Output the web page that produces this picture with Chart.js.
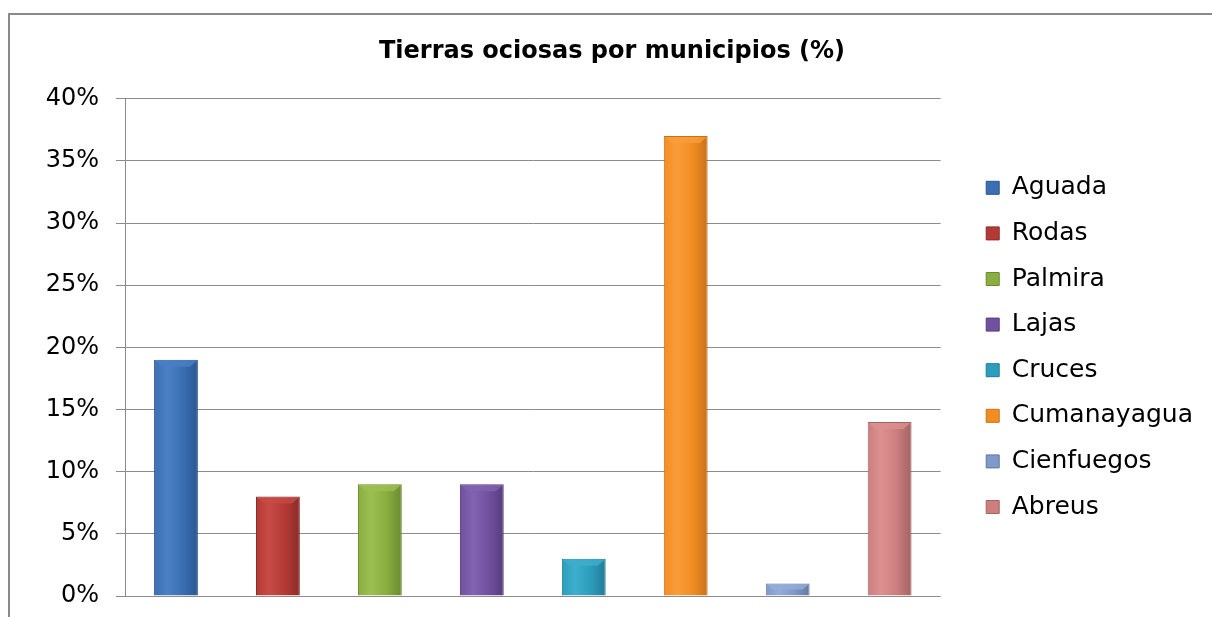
<!DOCTYPE html>
<html>
<head>
<meta charset="utf-8">
<script src="https://cdn.jsdelivr.net/npm/chart.js@4"></script>
<style>
  html, body { margin: 0; padding: 0; background: #fff; }
  #wrap { position: relative; width: 1212px; height: 617px; overflow: hidden; }
  #frame { position: absolute; left: 8px; top: 13px; width: 1300px; height: 700px;
           border-left: 2px solid #8a8a8a; border-top: 2px solid #8a8a8a; pointer-events: none; }
  canvas { position: absolute; left: 0; top: 0; }
</style>
</head>
<body>
<div id="wrap">
  <div id="frame"></div>
  <canvas id="c" width="1212" height="617"></canvas>
</div>
<script>
const titleText = 'Tierras ociosas por municipios (%)';
const categories = ['Aguada', 'Rodas', 'Palmira', 'Lajas', 'Cruces', 'Cumanayagua', 'Cienfuegos', 'Abreus'];
const values = [19, 8, 9, 9, 3, 37, 1, 14];
const yTicks = [0, 5, 10, 15, 20, 25, 30, 35, 40];

const baseColors = ['#3a6fb3', '#b53a36', '#8aae3f', '#7150a0', '#2d9dbd', '#f38d22', '#7f99c8', '#cc7f7e'];
const darkColors = ['#2c5690', '#8a2c29', '#6a8a30', '#563d7c', '#227c96', '#c8711a', '#62789f', '#a26362'];
const lightColors = ['#4a80c4', '#c64a46', '#9bbf50', '#8262b2', '#3eaecd', '#f99d3a', '#93acd8', '#dc908f'];

const bevelPlugin = {
  id: 'bevel',
  beforeDatasetsDraw(chart) {
    const meta = chart.getDatasetMeta(0);
    const ctx = chart.ctx;
    meta.data.forEach((el, i) => {
      const w = el.width, x0 = el.x - w / 2, x1 = el.x + w / 2;
      const g = ctx.createLinearGradient(x0, 0, x1, 0);
      g.addColorStop(0, baseColors[i]);
      g.addColorStop(0.3, lightColors[i]);
      g.addColorStop(0.65, baseColors[i]);
      g.addColorStop(1, darkColors[i]);
      el.options.backgroundColor = g;
    });
  },
  afterDatasetsDraw(chart) {
    const meta = chart.getDatasetMeta(0);
    const ctx = chart.ctx;
    ctx.save();
    meta.data.forEach((el, i) => {
      const w = el.width, x0 = el.x - w / 2, x1 = el.x + w / 2;
      const top = el.y, h = Math.min(7, (el.base - el.y) / 2);
      ctx.beginPath();
      ctx.moveTo(x0 + 1, top + 1);
      ctx.lineTo(x1 - 1, top + 1);
      ctx.lineTo(x1 - 1 - h, top + h);
      ctx.lineTo(x0 + 1 + h, top + h);
      ctx.closePath();
      ctx.fillStyle = lightColors[i];
      ctx.globalAlpha = 0.8;
      ctx.fill();
    });
    ctx.restore();
  }
};

new Chart(document.getElementById('c'), {
  type: 'bar',
  data: {
    labels: categories,
    datasets: [{
      data: values,
      backgroundColor: baseColors,
      borderColor: darkColors,
      borderWidth: 1,
      categoryPercentage: 1,
      barPercentage: 0.43
    }]
  },
  plugins: [bevelPlugin],
  options: {
    responsive: false,
    animation: false,
    events: [],
    layout: { padding: { top: 10, left: 21, right: 9, bottom: 21 } },
    plugins: {
      title: {
        display: true,
        text: titleText,
        color: '#000',
        font: { family: 'DejaVu Sans', size: 24, weight: 'bold' },
        padding: { top: 27, bottom: 33 }
      },
      legend: {
        display: true,
        position: 'right',
        fullSize: false,
        maxWidth: 260,
        labels: {
          font: { family: 'DejaVu Sans', size: 25 },
          color: '#000',
          boxWidth: 13,
          boxHeight: 13,
          padding: 20.6,
          generateLabels: () => categories.map((c, i) => ({
            text: c,
            fillStyle: baseColors[i],
            strokeStyle: darkColors[i],
            lineWidth: 1,
            hidden: false,
            index: i,
            datasetIndex: 0,
            fontColor: '#000'
          }))
        }
      },
      tooltip: { enabled: false }
    },
    scales: {
      x: { display: false },
      y: {
        min: 0,
        max: 40,
        afterBuildTicks: s => { s.ticks = yTicks.map(v => ({ value: v })); },
        afterFit: s => { s.width = 104; s.paddingBottom = 12; s.paddingTop = 12; },
        ticks: {
          color: '#000',
          font: { family: 'DejaVu Sans', size: 24 },
          padding: 17,
          callback: v => v + '%'
        },
        grid: { color: '#8c8c8c', lineWidth: 1, tickLength: 9, drawTicks: true },
        border: { display: true, color: '#8c8c8c', width: 1 }
      },
      gap: {
        position: 'right',
        display: true,
        min: 0, max: 1,
        ticks: { display: false },
        grid: { display: false },
        border: { display: false },
        afterFit: s => { s.width = 25; }
      }
    }
  }
});
</script>
</body>
</html>
